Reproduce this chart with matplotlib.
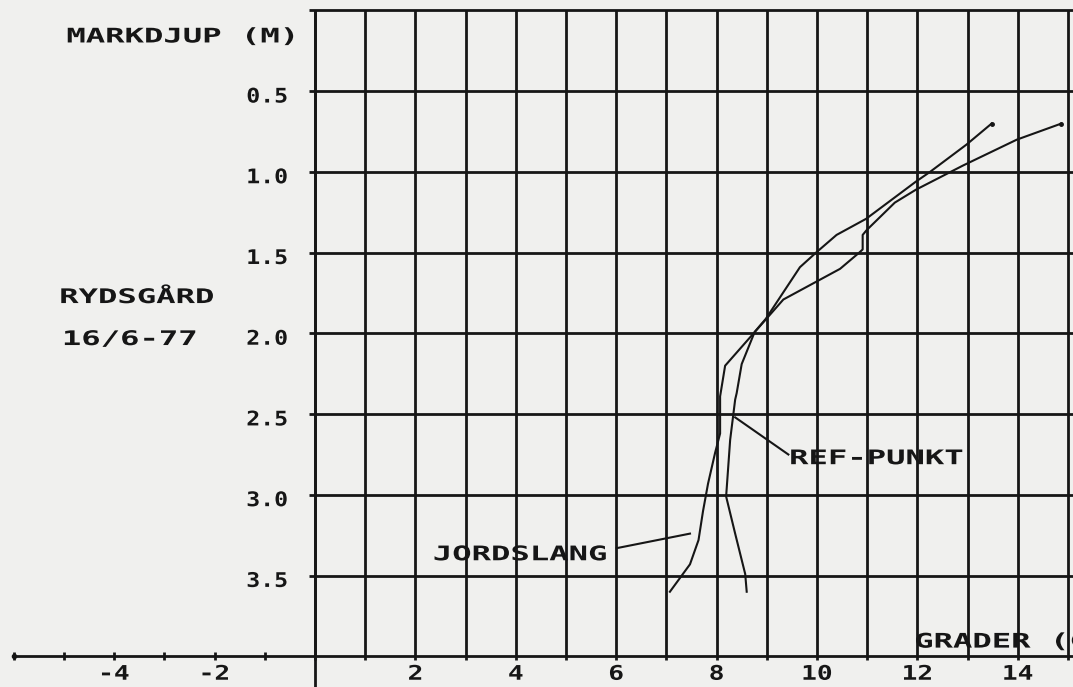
import numpy as np
import matplotlib
matplotlib.use("Agg")
import matplotlib.pyplot as plt
from matplotlib.patheffects import AbstractPathEffect
from matplotlib.transforms import Affine2D

# ---- data: soil temperature profiles (temperature in deg C, depth in m) ----
jord_temp = [14.87, 13.98, 12.91, 11.97, 11.55, 10.99, 10.91, 10.91, 10.84, 10.46,
             9.33, 8.17, 8.07, 8.07, 7.97, 7.83, 7.73, 7.64, 7.47, 7.07]
jord_depth = [0.70, 0.80, 0.96, 1.11, 1.19, 1.36, 1.39, 1.48, 1.50, 1.60,
              1.79, 2.20, 2.39, 2.62, 2.74, 2.93, 3.10, 3.28, 3.43, 3.60]

ref_temp = [13.48, 12.98, 12.25, 11.97, 10.98, 10.39, 9.98, 9.66, 8.98, 8.76,
            8.50, 8.40, 8.37, 8.27, 8.19, 8.37, 8.57, 8.60]
ref_depth = [0.70, 0.83, 1.00, 1.06, 1.29, 1.39, 1.50, 1.59, 1.91, 1.99,
             2.19, 2.37, 2.41, 2.66, 3.01, 3.24, 3.49, 3.60]

depth_ticks = [0.5, 1.0, 1.5, 2.0, 2.5, 3.0, 3.5]
depth_labels = ["0.5", "1.0", "1.5", "2.0", "2.5", "3.0", "3.5"]
temp_ticks = [-4, -2, 2, 4, 6, 8, 10, 12, 14]
temp_labels = ["-4", "-2", "2", "4", "6", "8", "10", "12", "14"]

INK = "#161616"
PAPER = "#f0f0ee"


class HStretch(AbstractPathEffect):
    """Widen glyphs horizontally, like a pen-plotter character set."""

    def __init__(self, sx, anchor=0.0):
        super().__init__()
        self.sx = sx
        self.anchor = anchor

    def draw_path(self, renderer, gc, tpath, affine, rgbFace=None):
        ext = tpath.get_extents(affine)
        x0 = ext.x0 + self.anchor * ext.width
        tr = affine + Affine2D().translate(-x0, 0).scale(self.sx, 1.0).translate(x0, 0)
        renderer.draw_path(gc, tpath, tr, rgbFace)


FONT = dict(family="DejaVu Sans Mono", fontsize=14.5, fontweight="bold", color=INK)


def label(ax, x, y, s, ha="left", sx=1.6):
    anchor = {"left": 0.0, "center": 0.5, "right": 1.0}[ha]
    ax.text(x, y, s, ha=ha, va="baseline", path_effects=[HStretch(sx, anchor)], **FONT)


fig = plt.figure(figsize=(10.73, 6.87), dpi=100, facecolor=PAPER)
ax = fig.add_axes([0, 0, 1, 1])
ax.set_facecolor(PAPER)
ax.set_xlim(-6.275, 15.10)
ax.set_ylim(4.19, -0.065)
ax.axis("off")

# grid
grid_lw = 2.0
for d in np.arange(0.0, 3.51, 0.5):
    ax.hlines(d, -0.12, 15.2, color=INK, lw=grid_lw)
for t in range(0, 16):
    ax.vlines(t, 0.0, 4.02, color=INK, lw=grid_lw)
ax.vlines(0, 0.0, 4.3, color=INK, lw=grid_lw)
# temperature axis
ax.hlines(4.0, -6.0, 15.2, color=INK, lw=grid_lw)
ax.vlines(np.arange(-6, 0), 3.975, 4.025, color=INK, lw=grid_lw)
ax.plot([-6.0], [4.0], "o", color=INK, ms=3)

# profiles
ax.plot(jord_temp, jord_depth, color=INK, lw=1.5, marker="o", ms=2.5, markevery=[0])
ax.plot(ref_temp, ref_depth, color=INK, lw=1.5, marker="o", ms=2.5, markevery=[0])

# leaders to curve names
ax.plot([8.37, 9.43], [2.52, 2.75], color=INK, lw=1.5)
ax.plot([6.01, 7.47], [3.33, 3.24], color=INK, lw=1.5)
label(ax, 9.46, 2.81, "REF-PUNKT")
label(ax, 2.36, 3.405, "JORDSLANG")

# axis labels
for d, s in zip(depth_ticks, depth_labels):
    label(ax, -0.54, d + 0.07, s, ha="right", sx=1.15)
for t, s in zip(temp_ticks, temp_labels):
    label(ax, t, 4.145, s, ha="center", sx=1.3)

label(ax, -0.36, 0.198, "MARKDJUP (M)", ha="right")
label(ax, 11.95, 3.946, "GRADER (C)")
label(ax, -5.08, 1.812, "RYDSGÅRD")
label(ax, -5.02, 2.072, "16/6-77")

fig.savefig("out.png", dpi=100, facecolor=PAPER)
